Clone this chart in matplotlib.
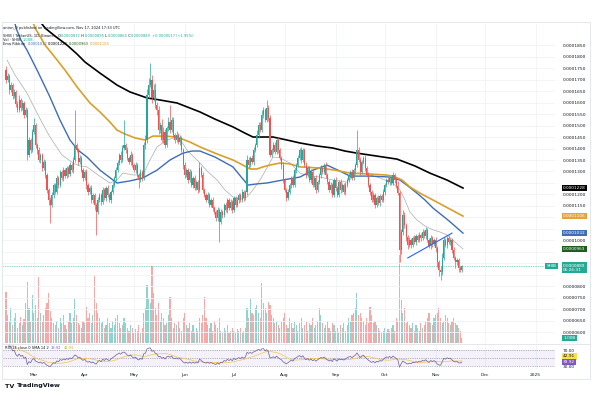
import numpy as np
import pandas as pd
import matplotlib
matplotlib.use('Agg')
import matplotlib.pyplot as plt
import matplotlib.transforms as mtransforms
from matplotlib.patches import Rectangle
from matplotlib.lines import Line2D

plt.rcParams['font.family'] = ['DejaVu Sans']

# daily candles, prices in units of 0.0000001
start = pd.Timestamp('2024-02-13')
first_open = 1740
closes = [1698, 1715, 1654, 1676, 1628, 1646, 1594, 1567, 1611, 1576,
          1598, 1546, 1567, 1372, 1437, 1393, 1472, 1502, 1415, 1393,
          1350, 1372, 1315, 1341, 1285, 1220, 1176, 1154, 1198, 1241,
          1211, 1272, 1241, 1298, 1272, 1306, 1280, 1315, 1289, 1328,
          1306, 1350, 1415, 1393, 1341, 1359, 1306, 1272, 1298, 1241,
          1211, 1228, 1176, 1198, 1154, 1124, 1176, 1198, 1167, 1220,
          1185, 1228, 1198, 1176, 1211, 1241, 1272, 1306, 1337, 1372,
          1350, 1402, 1415, 1393, 1359, 1341, 1372, 1328, 1306, 1328,
          1285, 1263, 1298, 1272, 1415, 1437, 1633, 1676, 1698, 1620,
          1654, 1589, 1567, 1480, 1502, 1437, 1472, 1415, 1489, 1515,
          1480, 1524, 1459, 1437, 1459, 1428, 1446, 1393, 1328, 1285,
          1306, 1263, 1298, 1241, 1272, 1228, 1254, 1220, 1315, 1285,
          1220, 1198, 1176, 1198, 1154, 1176, 1141, 1124, 1098, 1133,
          1080, 1124, 1111, 1154, 1133, 1176, 1141, 1167, 1133, 1185,
          1154, 1176, 1198, 1176, 1211, 1185, 1211, 1350, 1328, 1359,
          1341, 1393, 1415, 1459, 1502, 1480, 1546, 1567, 1524, 1576,
          1533, 1372, 1393, 1415, 1385, 1437, 1393, 1359, 1328, 1263,
          1220, 1185, 1211, 1241, 1272, 1241, 1306, 1328, 1359, 1393,
          1350, 1393, 1328, 1285, 1315, 1263, 1298, 1241, 1272, 1220,
          1254, 1285, 1315, 1298, 1328, 1285, 1254, 1220, 1241, 1198,
          1263, 1228, 1198, 1254, 1220, 1241, 1211, 1241, 1263, 1285,
          1298, 1272, 1306, 1328, 1393, 1350, 1298, 1341, 1359, 1315,
          1285, 1241, 1211, 1176, 1198, 1154, 1185, 1163, 1193, 1176,
          1211, 1241, 1263, 1254, 1272, 1250, 1285, 1263, 1237, 1206,
          959, 1037, 1111, 1067, 1015, 980, 1002, 980, 1011, 993,
          1019, 1002, 1024, 1011, 1037, 1019, 1046, 1002, 976, 1011,
          985, 1002, 967, 906, 872, 863, 924, 1002, 980, 1011,
          993, 1002, 959, 924, 906, 915, 880, 872, 889]
up_wick = [20, 15, 10, 12, 8, 15, 10, 12, 20, 10,
           15, 8, 12, 10, 15, 10, 12, 31, 10, 8,
           15, 10, 8, 12, 10, 8, 10, 12, 15, 10,
           8, 12, 10, 8, 10, 12, 8, 10, 8, 12,
           10, 12, 152, 10, 8, 12, 10, 8, 10, 12,
           8, 10, 12, 8, 10, 8, 15, 10, 8, 12,
           10, 8, 12, 10, 8, 12, 10, 15, 12, 10,
           15, 12, 109, 10, 12, 8, 15, 10, 8, 12,
           10, 8, 12, 10, 15, 20, 25, 30, 74, 20,
           25, 30, 15, 20, 15, 25, 20, 15, 10, 20,
           74, 15, 12, 10, 15, 8, 12, 10, 8, 12,
           10, 8, 12, 10, 8, 12, 10, 8, 25, 10,
           12, 8, 10, 12, 8, 10, 12, 8, 10, 12,
           8, 15, 10, 8, 12, 10, 8, 12, 10, 8,
           10, 12, 8, 10, 12, 8, 10, 20, 15, 10,
           12, 15, 10, 20, 15, 12, 20, 15, 10, 35,
           15, 12, 10, 15, 12, 10, 12, 8, 10, 12,
           8, 10, 12, 8, 10, 12, 10, 8, 12, 10,
           12, 10, 8, 12, 10, 8, 12, 10, 8, 12,
           10, 8, 12, 10, 8, 12, 10, 8, 12, 10,
           8, 12, 10, 8, 12, 10, 8, 12, 10, 8,
           10, 12, 8, 10, 87, 15, 12, 10, 8, 12,
           10, 12, 8, 10, 12, 8, 10, 12, 8, 10,
           12, 8, 10, 12, 8, 10, 12, 10, 15, 20,
           10, 15, 20, 12, 10, 8, 12, 10, 8, 12,
           10, 8, 12, 10, 15, 8, 12, 10, 8, 12,
           10, 8, 12, 10, 8, 15, 20, 12, 10, 8,
           12, 10, 8, 12, 10, 8, 10, 8, 6]
low_wick = [12, 10, 15, 8, 12, 10, 15, 10, 8, 12,
            10, 12, 8, 20, 10, 12, 8, 10, 12, 15,
            10, 12, 15, 10, 12, 15, 20, 78, 10, 12,
            10, 8, 12, 10, 8, 12, 10, 8, 12, 10,
            8, 12, 10, 8, 12, 10, 8, 12, 10, 15,
            12, 10, 15, 12, 20, 100, 10, 8, 12, 10,
            8, 12, 10, 8, 12, 10, 8, 12, 10, 8,
            12, 10, 8, 12, 10, 8, 12, 10, 8, 12,
            10, 35, 8, 12, 10, 15, 12, 15, 10, 20,
            15, 12, 20, 15, 12, 10, 15, 12, 10, 15,
            12, 10, 8, 12, 10, 8, 12, 10, 15, 12,
            10, 12, 8, 10, 12, 8, 10, 12, 10, 8,
            12, 10, 8, 12, 10, 8, 12, 10, 15, 12,
            87, 10, 12, 8, 10, 12, 8, 10, 12, 8,
            10, 8, 12, 10, 8, 12, 10, 15, 12, 10,
            8, 12, 10, 8, 12, 10, 8, 12, 10, 8,
            12, 10, 8, 12, 10, 8, 12, 10, 15, 12,
            10, 12, 8, 10, 12, 8, 10, 12, 8, 10,
            12, 8, 10, 12, 8, 10, 12, 8, 10, 12,
            8, 10, 12, 8, 10, 12, 8, 10, 12, 8,
            10, 12, 8, 10, 12, 8, 10, 12, 8, 10,
            12, 8, 10, 12, 8, 10, 12, 8, 10, 12,
            8, 10, 12, 8, 10, 12, 8, 10, 12, 8,
            10, 12, 8, 10, 12, 8, 10, 12, 8, 10,
            53, 20, 15, 12, 18, 15, 10, 12, 10, 8,
            12, 10, 8, 12, 10, 8, 12, 10, 8, 15,
            12, 10, 15, 20, 25, 35, 12, 10, 8, 12,
            10, 12, 15, 10, 25, 12, 15, 10, 8]
volume = [51, 28, 22, 35, 18, 25, 30, 15, 20, 26,
          18, 24, 40, 61, 35, 22, 48, 30, 38, 25,
          66, 30, 22, 28, 35, 40, 50, 32, 25, 20,
          18, 22, 15, 25, 20, 28, 18, 14, 22, 30,
          20, 25, 45, 28, 20, 18, 15, 22, 20, 36,
          25, 30, 20, 28, 68, 40, 30, 25, 20, 22,
          15, 18, 25, 20, 15, 22, 18, 25, 28, 20,
          15, 18, 25, 20, 15, 12, 18, 15, 10, 14,
          12, 18, 10, 15, 30, 35, 58, 45, 40, 77,
          50, 35, 28, 40, 22, 30, 25, 18, 20, 28,
          46, 25, 15, 20, 18, 22, 15, 12, 25, 30,
          18, 15, 20, 12, 18, 10, 15, 12, 25, 20,
          28, 46, 25, 18, 15, 20, 12, 22, 18, 15,
          25, 12, 10, 15, 12, 18, 10, 12, 15, 12,
          10, 14, 12, 15, 10, 12, 15, 35, 25, 45,
          30, 28, 35, 38, 30, 25, 60, 40, 35, 30,
          41, 38, 28, 25, 20, 22, 18, 15, 22, 25,
          30, 18, 15, 25, 20, 15, 22, 18, 12, 20,
          25, 15, 18, 22, 12, 20, 18, 25, 15, 18,
          22, 35, 28, 20, 15, 18, 22, 15, 12, 20,
          18, 12, 15, 10, 18, 15, 20, 12, 18, 25,
          22, 28, 30, 35, 50, 28, 30, 25, 22, 18,
          25, 20, 36, 28, 20, 22, 18, 15, 12, 10,
          12, 15, 10, 14, 12, 15, 18, 12, 25, 22,
          88, 43, 30, 35, 20, 22, 18, 15, 20, 12,
          18, 15, 12, 20, 15, 18, 22, 25, 30, 20,
          18, 25, 28, 30, 35, 25, 20, 22, 28, 25,
          20, 18, 22, 25, 20, 18, 15, 12, 5]

# moving averages (day offset, price)
ma_black_day = [14.6, 23.8, 29.9, 37.2, 43.3, 48.2, 57.3, 67.7, 75.6, 86.0, 93.9,
                104.3, 112.2, 118.3, 127.4, 138.4, 145.7, 150.6, 157.9, 162.8, 171.3,
                179.3, 189.6, 199.4, 206.7, 214.0, 226.2, 238.4, 249.4, 258.5, 268.9,
                278.7]
ma_black = [2011, 1924, 1889, 1850, 1811, 1776, 1728, 1676, 1646, 1620, 1611,
            1598, 1576, 1559, 1528, 1494, 1467, 1450, 1450, 1450, 1437,
            1424, 1411, 1402, 1389, 1380, 1367, 1354, 1324, 1293, 1263,
            1228]
ma_orange_day = [13.4, 17.7, 20.7, 23.8, 28.7, 36.0, 43.3, 51.2, 57.3, 63.4, 67.7,
                 72.6, 78.7, 84.8, 89.6, 97.0, 104.3, 112.2, 118.3, 127.4, 138.4,
                 144.5, 148.8, 153.0, 156.7, 161.0, 167.1, 173.2, 179.3, 191.5, 200.6,
                 209.8, 222.0, 231.1, 236.0, 241.5, 246.3, 252.4, 260.4, 269.5, 278.7]
ma_orange = [2011, 1924, 1889, 1850, 1807, 1741, 1668, 1598, 1559, 1515, 1480,
             1463, 1446, 1437, 1454, 1454, 1450, 1428, 1407, 1380, 1350,
             1328, 1311, 1311, 1320, 1328, 1337, 1333, 1320, 1315, 1306,
             1293, 1289, 1285, 1280, 1263, 1233, 1206, 1176, 1141, 1106]
ma_blue_day = [3.7, 6.1, 9.1, 12.8, 19.5, 26.8, 32.9, 39.0, 43.9, 49.4, 57.3,
               67.7, 75.6, 83.5, 92.1, 100.0, 107.9, 113.4, 118.3, 127.4, 138.4,
               143.9, 147.6, 153.0, 159.1, 168.9, 179.3, 187.2, 195.7, 202.4, 209.8,
               222.0, 234.1, 240.2, 245.1, 250.6, 255.5, 260.4, 269.5, 278.7]
ma_blue = [2002, 1924, 1872, 1828, 1733, 1624, 1524, 1437, 1393, 1363, 1306,
           1250, 1259, 1272, 1306, 1350, 1380, 1389, 1389, 1363, 1320,
           1272, 1241, 1246, 1250, 1263, 1276, 1306, 1328, 1306, 1280,
           1280, 1276, 1263, 1237, 1206, 1176, 1141, 1089, 1032]
ma_gray_day = [0.6, 5.5, 12.8, 19.5, 26.8, 34.1, 40.9, 45.1, 49.4, 56.1, 63.4,
               67.7, 71.3, 77.4, 83.5, 87.8, 92.1, 98.2, 104.3, 107.3, 110.4,
               114.0, 118.3, 123.2, 128.7, 133.5, 138.4, 142.7, 147.0, 150.6, 154.9,
               159.1, 162.8, 167.1, 173.2, 179.3, 185.4, 191.5, 199.4, 207.9, 211.0,
               214.0, 217.7, 222.0, 228.0, 234.1, 237.2, 240.2, 243.3, 246.3, 250.6,
               255.5, 260.4, 264.6, 268.9, 273.8, 278.7]
ma_gray = [1785, 1720, 1641, 1546, 1450, 1372, 1337, 1324, 1320, 1285, 1250,
           1263, 1293, 1285, 1285, 1350, 1407, 1437, 1450, 1428, 1393,
           1367, 1337, 1298, 1263, 1220, 1189, 1180, 1189, 1220, 1263,
           1315, 1363, 1359, 1337, 1293, 1280, 1276, 1263, 1254, 1272,
           1293, 1293, 1285, 1272, 1254, 1241, 1220, 1176, 1124, 1089,
           1063, 1046, 1037, 1024, 993, 963]

trend_day = [245, 272]
trend_px = [924, 1032]

month_labels = ['Mar', 'Apr', 'May', 'Jun', 'Jul', 'Aug', 'Sep', 'Oct', 'Nov', 'Dec', '2025']
month_dates = ['2024-03-01', '2024-04-01', '2024-05-01', '2024-06-01', '2024-07-01',
               '2024-08-01', '2024-09-01', '2024-10-01', '2024-11-01', '2024-12-01',
               '2025-01-01']

UP = '#26a69a'
DOWN = '#ef5350'
TEAL = '#22ab94'
TXT = '#131722'
GRID = '#f0f3fa'

n = len(closes)
x = np.arange(n)
c = np.array(closes, float)
o = np.array([first_open] + closes[:-1], float)
hi = np.maximum(o, c) + np.array(up_wick)
lo = np.minimum(o, c) - np.array(low_wick)
is_up = c >= o
cols = np.where(is_up, UP, DOWN)
vcols = np.where(is_up, '#92d2cc', '#f7a9a7')
month_days = [(pd.Timestamp(d) - start).days for d in month_dates]

W, H = 600, 394
fig = plt.figure(figsize=(6, 3.94), dpi=100)
fig.patch.set_facecolor('white')


def fx(px):
    return px / W


def fy(py):
    return 1 - py / H


L, R = 3, 555
xlim = (-1.83, 334.8)

# volume pane (overlay at bottom of main pane)
vax = fig.add_axes([fx(L), fy(343), fx(R) - fx(L), fy(250) - fy(343)])
vax.bar(x, volume, width=0.7, color=vcols, linewidth=0)
vax.set_xlim(*xlim)
vax.set_ylim(0, 93)
vax.axis('off')
vax.set_zorder(1)

# main price pane
ax = fig.add_axes([fx(L), fy(343), fx(R) - fx(L), fy(24) - fy(343)])
ax.set_zorder(2)
ax.patch.set_visible(False)
ax.set_xlim(*xlim)
ax.set_ylim(554, 1941.6)
for d in month_days:
    ax.axvline(d, color=GRID, lw=0.6, zorder=0)
yt = np.arange(600, 1851, 50)
for v in yt:
    ax.axhline(v, color=GRID, lw=0.6, zorder=0)

ax.plot(ma_gray_day, ma_gray, color='#a9ada5', lw=0.5, zorder=2)
ax.plot(ma_blue_day, ma_blue, color='#3e6db5', lw=1.0, zorder=2)
ax.plot(ma_orange_day, ma_orange, color='#d9a02a', lw=1.2, zorder=2)
ax.plot(ma_black_day, ma_black, color='#000000', lw=1.2, zorder=2)

ax.vlines(x, lo, hi, colors=cols, lw=0.5, zorder=3)
body = np.maximum(np.abs(c - o), 3)
ax.bar(x, body, bottom=np.minimum(o, c), width=0.7, color=cols, linewidth=0, zorder=4)
ax.plot(trend_day, trend_px, color='#2962ff', lw=0.8, zorder=5)
ax.axhline(c[-1], color=TEAL, lw=0.5, ls=(0, (1, 1.5)), zorder=1)

# price labels, hidden where a value badge sits on the scale
badge_vals = [ma_black[-1], ma_orange[-1], ma_blue[-1], ma_gray[-1]]
shown = [v for v in yt
         if all(abs(v - b) > 22 for b in badge_vals) and abs(v - (c[-1] - 8)) > 32]
ax.yaxis.tick_right()
ax.set_yticks(shown)
ax.set_yticklabels([f"{v * 1e-7:.7f}" for v in shown])
ax.tick_params(axis='y', length=0, labelsize=3.2, labelcolor=TXT, pad=5.5)
ax.tick_params(axis='x', length=0, labelbottom=False)
for s in ax.spines.values():
    s.set_visible(False)

tr = mtransforms.blended_transform_factory(ax.transAxes, ax.transData)


def badge(axis, trans, yv, text, fc, tc='white'):
    axis.text(1.0145, yv, text, transform=trans, fontsize=3.1, color=tc, va='center',
              ha='left', clip_on=False, zorder=10, linespacing=1.1,
              bbox=dict(boxstyle='square,pad=0.3', fc=fc, ec='none'))


badge(ax, tr, ma_black[-1], f"{ma_black[-1] * 1e-7:.7f}", '#000000')
badge(ax, tr, ma_orange[-1], f"{ma_orange[-1] * 1e-7:.7f}", '#e8a23a')
badge(ax, tr, ma_blue[-1], f"{ma_blue[-1] * 1e-7:.7f}", '#3e6db5')
badge(ax, tr, ma_gray[-1], f"{ma_gray[-1] * 1e-7:.7f}", '#1b5e20')
badge(ax, tr, c[-1] - 8, f"{c[-1] * 1e-7:.7f}\n06:26:31", TEAL)
ax.text(0.985, c[-1], "SHIB", transform=tr, fontsize=3.1, color='white', va='center',
        ha='left', clip_on=False, zorder=10,
        bbox=dict(boxstyle='square,pad=0.3', fc=TEAL, ec='none'))

# volume last value badge
vtr = mtransforms.blended_transform_factory(vax.transAxes, vax.transData)
vax.text(1.0145, volume[-1], f"{volume[-1] * 0.2:.2f}B", transform=vtr, fontsize=3.1,
         color='white', va='center', ha='left', clip_on=False, zorder=10,
         bbox=dict(boxstyle='square,pad=0.3', fc=TEAL, ec='none'))

# RSI pane
cs = pd.Series(c)
delta = cs.diff()
gain = delta.clip(lower=0).ewm(alpha=1 / 14, adjust=False).mean()
loss = (-delta.clip(upper=0)).ewm(alpha=1 / 14, adjust=False).mean()
rsi = 100 - 100 / (1 + gain / loss)
rsi_ma = rsi.rolling(14, min_periods=1).mean()

rax = fig.add_axes([fx(L), fy(369), fx(R) - fx(L), fy(344) - fy(369)])
rax.set_xlim(*xlim)
rax.set_ylim(22.5, 85)
rax.axhspan(30, 70, color='#7e57c2', alpha=0.08, lw=0)
for lvl in (70, 50, 30):
    rax.axhline(lvl, color='#787b86', lw=0.4, ls=(0, (2, 2)))
for d in month_days:
    rax.axvline(d, color=GRID, lw=0.6, zorder=0)
rax.plot(x[1:], rsi_ma[1:], color='#f5c542', lw=0.5)
rax.plot(x[1:], rsi[1:], color='#6b5b95', lw=0.5)
rax.yaxis.tick_right()
rax.set_yticks([70, 30])
rax.set_yticklabels(['70.00', '30.00'])
rax.tick_params(axis='y', length=0, labelsize=3.1, labelcolor=TXT, pad=5.5)
rax.set_xticks(month_days)
rax.set_xticklabels(month_labels)
rax.tick_params(axis='x', length=0, labelsize=3.2, labelcolor=TXT, pad=3)
for s in rax.spines.values():
    s.set_visible(False)
rtr = mtransforms.blended_transform_factory(rax.transAxes, rax.transData)
r_last = rsi.iloc[-1]
m_last = rsi_ma.iloc[-1]
# keep the two value tags apart on the scale so both stay legible
gap = 14
m_pos = max(m_last, r_last + gap) if m_last >= r_last else m_last
r_pos = r_last if m_last >= r_last else max(r_last, m_last + gap)
badge(rax, rtr, m_pos, f"{m_last:.2f}", '#f7e04b', TXT)
badge(rax, rtr, r_pos, f"{r_last:.2f}", '#7e57c2')

# separators and frame
fig.add_artist(Line2D([fx(L), fx(590)], [fy(343.5), fy(343.5)], color='#e0e3eb', lw=0.6))
fig.add_artist(Rectangle((fx(2), fy(379)), fx(590) - fx(2), fy(22) - fy(379),
                         fill=False, ec='#e0e3eb', lw=0.6))

# header lines
renderer = fig.canvas.get_renderer()


def seg_line(px, py, parts, size=2.6, weight='normal'):
    xx = fx(px)
    for text, col in parts:
        t = fig.text(xx, fy(py), text, fontsize=size, color=col, va='center', ha='left',
                     fontweight=weight)
        bb = t.get_window_extent(renderer)
        xx = bb.x1 / fig.bbox.width


def p7(v):
    return f"{v * 1e-7:.7f}"


chg = c[-1] - o[-1]
pct = chg / o[-1] * 100
sign = '+' if chg >= 0 else '−'
seg_line(3, 27.7, [("anton_9 published on TradingView.com, Nov 17, 2024 17:33 UTC", TXT)])
seg_line(3, 35.7, [("SHIB / TetherUS, 1D, Binance  ", TXT),
                   ("O", TXT), (p7(o[-1]), UP), (" H", TXT), (p7(hi[-1]), UP),
                   (" L", TXT), (p7(lo[-1]), UP), (" C", TXT), (p7(c[-1]), UP),
                   (f" {sign}{abs(chg) * 1e-7:.7f} ({sign}{abs(pct):.2f}%)", UP)])
seg_line(3, 40.3, [("Vol · SHIB  ", TXT), (f"{volume[-1] * 0.2:.2f}B", TEAL)])
seg_line(3, 44.3, [("Ema Ribbon  ", TXT), (p7(ma_blue[-1]), '#3e6db5'), (" ", TXT),
                   (p7(ma_black[-1]), '#000000'), (" ", TXT), (p7(ma_gray[-1]), '#1b5e20'),
                   (" ", TXT), (p7(ma_orange[-1]), '#d9a02a')])
seg_line(5, 348, [("RSI 14 close 0 SMA 14 2  ", TXT), (f"{r_last:.2f}", '#7e57c2'),
                  ("  ", TXT), (f"{m_last:.2f}", '#d4a20a')], size=2.6)

# logo
seg_line(5, 386, [("TV ", TXT), ("TradingView", TXT)], size=4.6, weight='bold')

fig.savefig('out.png', dpi=100, facecolor='white')
